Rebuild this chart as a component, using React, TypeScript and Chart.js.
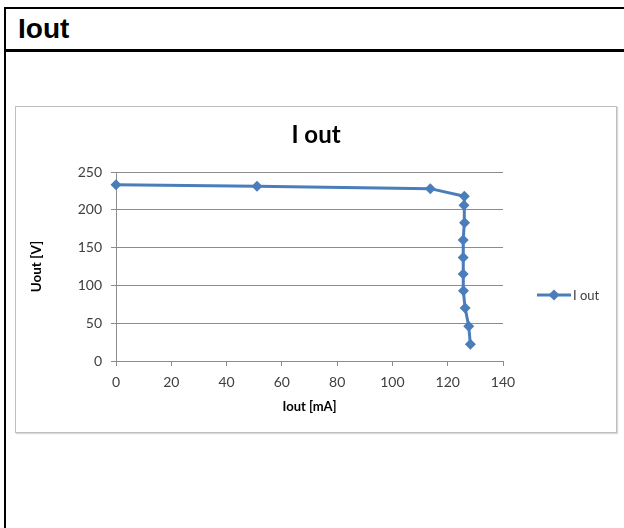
import React, { useEffect, useRef } from "react";
import { Chart, registerables } from "chart.js";

Chart.register(...registerables);

const seriesName = "I out";
const chartTitle = "I out";
const pageTitle = "Iout";
const xTitle = "Iout [mA]";
const yTitle = "Uout [V]";
const ioutValues = [0, 51, 113.7, 126, 125.9, 126.1, 125.6, 125.6, 125.6, 125.7, 126.3, 127.6, 128.2];
const uoutValues = [233, 231, 228, 218, 206, 183, 160, 137, 115, 93, 70, 46, 22];
const xTicks = [0, 20, 40, 60, 80, 100, 120, 140];
const yTicks = [0, 50, 100, 150, 200, 250];

const BLUE = "#4a7ebb";
const FONT = "Lato, 'Open Sans', sans-serif";

const excelDecor = {
  id: "excelDecor",
  afterDraw(chart: any) {
    const { ctx, chartArea, width } = chart;
    ctx.save();
    // chart title centred over the whole chart
    ctx.fillStyle = "#000000";
    ctx.font = `bold 24px ${FONT}`;
    ctx.textAlign = "center";
    ctx.textBaseline = "middle";
    ctx.fillText(chartTitle, width / 2, 28);
    // legend
    const x0 = chartArea.right + 34;
    const y = 188;
    ctx.strokeStyle = BLUE;
    ctx.lineWidth = 3;
    ctx.beginPath();
    ctx.moveTo(x0, y);
    ctx.lineTo(x0 + 34, y);
    ctx.stroke();
    ctx.fillStyle = BLUE;
    const cx = x0 + 17;
    const r = 5.5;
    ctx.beginPath();
    ctx.moveTo(cx, y - r);
    ctx.lineTo(cx + r, y);
    ctx.lineTo(cx, y + r);
    ctx.lineTo(cx - r, y);
    ctx.closePath();
    ctx.fill();
    ctx.fillStyle = "#404040";
    ctx.font = `13px ${FONT}`;
    ctx.textAlign = "left";
    ctx.textBaseline = "middle";
    ctx.fillText(seriesName, x0 + 36, y + 1);
    ctx.restore();
  },
};

function IoutChart() {
  const ref = useRef<HTMLCanvasElement | null>(null);
  useEffect(() => {
    if (!ref.current) return;
    const data = ioutValues.map((x, i) => ({ x, y: uoutValues[i] }));
    const chart = new Chart(ref.current, {
      type: "scatter",
      data: {
        datasets: [
          {
            label: seriesName,
            data,
            showLine: true,
            clip: false,
            borderColor: BLUE,
            backgroundColor: BLUE,
            borderWidth: 3,
            pointStyle: "rectRot",
            pointRadius: 5.5,
            pointBorderWidth: 0,
            pointBackgroundColor: BLUE,
          },
        ],
      },
      options: {
        animation: false,
        responsive: false,
        maintainAspectRatio: false,
        layout: { padding: { left: 0, right: 113, top: 65, bottom: 0 } },
        plugins: {
          legend: { display: false },
          tooltip: { enabled: false },
          title: { display: false },
        },
        scales: {
          x: {
            type: "linear",
            min: 0,
            max: 140,
            afterBuildTicks: (s: any) => {
              s.ticks = xTicks.map((v) => ({ value: v }));
            },
            afterFit: (s: any) => {
              s.height = 71;
            },
            ticks: {
              color: "#404040",
              font: { family: FONT, size: 14 },
              padding: 8,
              maxRotation: 0,
            },
            grid: {
              display: true,
              drawOnChartArea: false,
              drawTicks: true,
              tickLength: 5,
              color: "#8c8c8c",
            },
            border: { display: true, color: "#8c8c8c", width: 1 },
            title: {
              display: true,
              text: xTitle,
              color: "#000000",
              font: { family: FONT, size: 13, weight: "bold", lineHeight: 1.2 },
              padding: { top: 0, bottom: 17 },
            },
          },
          y: {
            type: "linear",
            min: 0,
            max: 250,
            afterBuildTicks: (s: any) => {
              s.ticks = yTicks.map((v) => ({ value: v }));
            },
            afterFit: (s: any) => {
              s.width = 100;
            },
            ticks: {
              color: "#404040",
              font: { family: FONT, size: 14 },
              padding: 9,
            },
            grid: {
              display: true,
              drawTicks: true,
              tickLength: 5,
              color: "#8c8c8c",
              lineWidth: 1,
            },
            border: { display: true, color: "#8c8c8c", width: 1 },
            title: {
              display: true,
              text: yTitle,
              color: "#000000",
              font: { family: FONT, size: 13.5, weight: "bold", lineHeight: 1.2 },
              padding: { top: 13, bottom: 0 },
            },
          },
        },
      },
      plugins: [excelDecor],
    } as any);
    return () => chart.destroy();
  }, []);
  return <canvas ref={ref} width={600} height={325} style={{ display: "block", width: 600, height: 325 }} />;
}

export default function App() {
  return (
    <div
      style={{
        position: "absolute",
        left: 0,
        top: 0,
        width: 624,
        height: 528,
        overflow: "hidden",
        background: "#ffffff",
      }}
    >
      <div
        style={{
          position: "absolute",
          left: 4,
          top: 7,
          width: 640,
          height: 540,
          borderLeft: "2px solid #000",
          borderTop: "2px solid #000",
        }}
      />
      <div
        style={{
          position: "absolute",
          left: 4,
          top: 49,
          width: 640,
          height: 3,
          background: "#000",
        }}
      />
      <div
        style={{
          position: "absolute",
          left: 18,
          top: 15,
          fontFamily: "'Liberation Sans', Arial, sans-serif",
          fontWeight: "bold",
          fontSize: 28,
          lineHeight: "28px",
          color: "#000",
        }}
      >
        {pageTitle}
      </div>
      <div
        style={{
          position: "absolute",
          left: 15,
          top: 106,
          width: 600,
          height: 325,
          border: "1px solid #bfbfbf",
          boxShadow: "1px 1px 1px rgba(0,0,0,0.15)",
          background: "#fff",
        }}
      >
        <IoutChart />
      </div>
    </div>
  );
}
